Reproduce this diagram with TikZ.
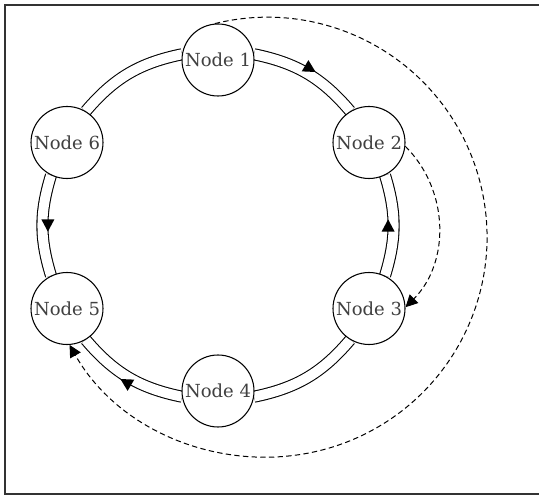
\documentclass[tikz,border=0pt]{standalone}
\usepackage{fontspec}
\setmainfont{DejaVu Serif}
\usetikzlibrary{arrows.meta,decorations.markings,backgrounds}
\tikzset{
  ring/.style={double,double distance=7.45pt,line width=.8pt},
  midtip/.style={postaction={decorate},decoration={markings,
    mark=at position .5 with {\fill (4.6pt,4.1pt) -- (-4.6pt,9pt) -- (-4.6pt,-.8pt) -- cycle;}}},
  hop/.style={dash pattern=on 4pt off 2.5pt,line width=.75pt,-{Triangle[length=9pt,width=9pt]}},
}
\begin{document}
\begin{tikzpicture}[x=.75pt,y=.75pt]%
        \useasboundingbox (0,0) rectangle (539,496);%%
        \draw[line width=1.3pt,black!80] (539,491) -- (5,491) -- (5,2) -- (539,2); %%
        \begin{scope}[shape=circle,inner sep=0pt,minimum size=54pt]
        \tikzstyle{every node}=[draw,fill=white,line width=.8pt,text=black!75,font=\fontsize{13.5pt}{15pt}\selectfont] %%
        \node (n1) at (218,436)  {Node 1}; %%
        \node (n2) at (369,353.5)  {Node 2}; %%
        \node (n3) at (369,187.5)  {Node 3}; %%
        \node (n4) at (218,105)  {Node 4}; %%
        \node (n5) at (67,187.5)  {Node 5}; %%
        \node (n6) at (67,353.5)  {Node 6}; %%
        \end{scope}
        \begin{scope}[on background layer]
        \draw[ring,midtip] (n1.9) to[bend left=19] (n2.121); %%
        \draw[ring,midtip] (n3.64) to[bend right=17] (n2.-64); %%
        \draw[ring] (n3.-121) to[bend left=19] (n4.-9); %%
        \draw[ring,midtip] (n4.189) to[bend left=19] (n5.-59); %%
        \draw[ring,midtip] (n6.-116) to[bend right=17] (n5.116); %%
        \draw[ring] (n6.59) to[bend left=19] (n1.171); %%
        \end{scope}
        \draw[hop] (n1.95) .. controls (325.5,499.7) and (438.2,437.9) .. (475.1,330.3)
              .. controls (512,222.6) and (461,105) .. (357.2,58.3)
              .. controls (253.4,11.6) and (125.4,52.5) .. (n5.-86); %%
        \draw[hop] (n2.-6) to[bend left=45] (n3.2); %%
\end{tikzpicture}
\end{document}
